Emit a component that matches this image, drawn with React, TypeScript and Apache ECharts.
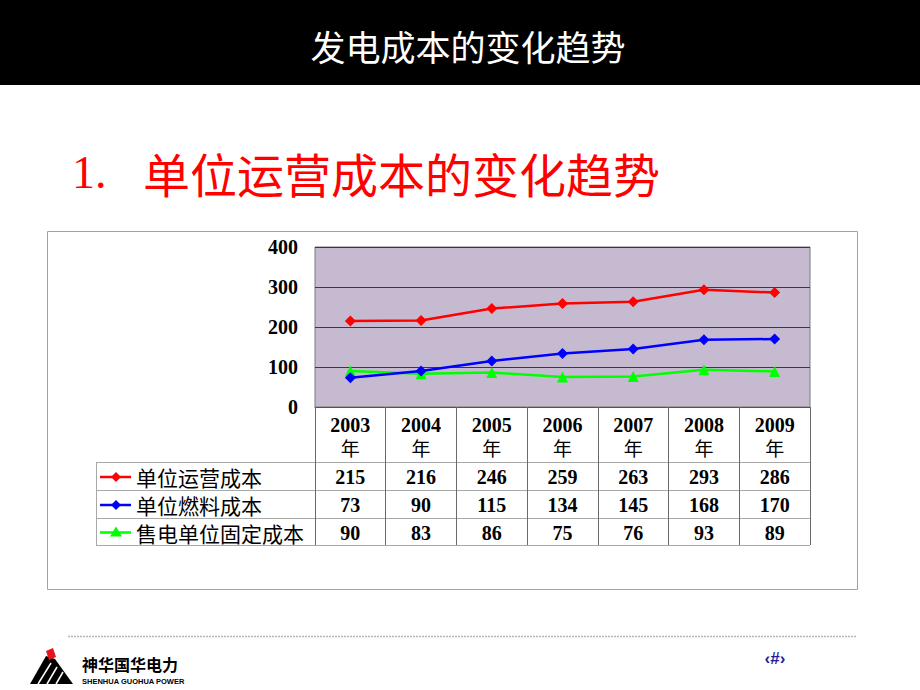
import React, { useEffect, useRef } from 'react';
import * as echarts from 'echarts';

// ---- data ----
const CATEGORIES = ['2003', '2004', '2005', '2006', '2007', '2008', '2009'];
const YEAR_SUFFIX = '年';
const SERIES_NAMES = ['单位运营成本', '单位燃料成本', '售电单位固定成本'];
const OPERATING_COST = [215, 216, 246, 259, 263, 293, 286];
const FUEL_COST = [73, 90, 115, 134, 145, 168, 170];
const FIXED_COST = [90, 83, 86, 75, 76, 93, 89];
const Y_MIN = 0;
const Y_MAX = 400;
const Y_INTERVAL = 100;
const PAGE_TITLE = '发电成本的变化趋势';
const SECTION_NO = '1.';
const SECTION_TITLE = '单位运营成本的变化趋势';

// ---- layout / style ----
const W = 920;
const H = 690;
const GRID = { left: 315, top: 247, width: 495, height: 160 };
const ROW_LINES = [462, 490, 518, 545];
const TABLE_LEFT = 96;
const COLORS = ['#ff0000', '#0000ff', '#00ff00'];
const SYMBOLS = ['diamond', 'diamond', 'triangle'];
const SERIF = '"Liberation Serif", "Times New Roman", serif';
const CJK = '"Noto Sans CJK SC", sans-serif';

export default function App() {
  const ref = useRef<HTMLDivElement>(null);

  useEffect(() => {
    document.body.style.margin = '0';
    const chart = echarts.init(ref.current!, null, { renderer: 'svg', width: W, height: H });
    const values = [OPERATING_COST, FUEL_COST, FIXED_COST];

    chart.setOption({
      animation: false,
      backgroundColor: '#ffffff',
      grid: {
        left: GRID.left,
        top: GRID.top,
        width: GRID.width,
        height: GRID.height,
        show: true,
        backgroundColor: '#c6bad0',
        borderColor: '#7a7a7a',
        borderWidth: 1,
      },
      xAxis: {
        type: 'category',
        data: CATEGORIES,
        boundaryGap: true,
        axisLine: { show: true, lineStyle: { color: '#555555', width: 1 } },
        axisTick: {
          show: true,
          interval: 0,
          length: ROW_LINES[ROW_LINES.length - 1] - (GRID.top + GRID.height),
          lineStyle: { color: '#6a6a6a', width: 1 },
        },
        axisLabel: {
          interval: 0,
          margin: 6,
          formatter: (v: string) => `{y|${v}}\n{n|${YEAR_SUFFIX}}`,
          rich: {
            y: { fontFamily: SERIF, fontWeight: 'bold', fontSize: 20, color: '#000', lineHeight: 23 },
            n: { fontFamily: CJK, fontSize: 19, color: '#000', lineHeight: 23 },
          },
        },
        splitLine: { show: false },
      },
      yAxis: {
        type: 'value',
        min: Y_MIN,
        max: Y_MAX,
        interval: Y_INTERVAL,
        axisLine: { show: false },
        axisTick: { show: false },
        axisLabel: {
          margin: 17,
          fontFamily: SERIF,
          fontWeight: 'bold',
          fontSize: 20,
          color: '#000',
        },
        splitLine: { show: true, lineStyle: { color: '#3a3a3a', width: 1 } },
      },
      series: SERIES_NAMES.map((name, i) => ({
        name,
        type: 'line',
        data: values[i],
        symbol: SYMBOLS[i],
        symbolSize: 11,
        lineStyle: { color: COLORS[i], width: 2.5 },
        itemStyle: { color: COLORS[i] },
        z: 3 + (2 - i),
      })),
    });

    const xs = CATEGORIES.map((c) => chart.convertToPixel({ xAxisIndex: 0 }, c) as number);
    const tableRight = GRID.left + GRID.width;
    const graphics: any[] = [];

    // header bar
    graphics.push({ type: 'rect', shape: { x: 0, y: 0, width: W, height: 85 }, style: { fill: '#000' }, silent: true });
    graphics.push({
      type: 'text', x: 468, y: 45,
      style: { text: PAGE_TITLE, fill: '#fff', font: `35px ${CJK}`, textAlign: 'center', textVerticalAlign: 'middle' },
    });
    // section title
    graphics.push({
      type: 'text', x: 72, y: 172,
      style: { text: SECTION_NO, fill: '#ff0000', font: `46px ${SERIF}`, textAlign: 'left', textVerticalAlign: 'middle' },
    });
    graphics.push({
      type: 'text', x: 143, y: 172,
      style: { text: SECTION_TITLE, fill: '#ff0000', font: `47px ${CJK}`, textAlign: 'left', textVerticalAlign: 'middle' },
    });
    // chart frame
    graphics.push({
      type: 'rect', shape: { x: 47.5, y: 231.5, width: 810, height: 358 },
      style: { fill: 'none', stroke: '#a3a0a6', lineWidth: 1 }, z: -1,
    });

    // table row lines
    ROW_LINES.forEach((y) => {
      graphics.push({
        type: 'line', shape: { x1: TABLE_LEFT, y1: y + 0.5, x2: tableRight, y2: y + 0.5 },
        style: { stroke: '#a8a8a8', lineWidth: 1 },
      });
    });
    graphics.push({
      type: 'line', shape: { x1: TABLE_LEFT + 0.5, y1: ROW_LINES[0], x2: TABLE_LEFT + 0.5, y2: ROW_LINES[ROW_LINES.length - 1] },
      style: { stroke: '#a8a8a8', lineWidth: 1 },
    });

    // table rows: legend + values
    SERIES_NAMES.forEach((name, i) => {
      const cy = (ROW_LINES[i] + ROW_LINES[i + 1]) / 2 + 1;
      graphics.push({
        type: 'line', shape: { x1: 100, y1: cy, x2: 131, y2: cy },
        style: { stroke: COLORS[i], lineWidth: 2.5 },
      });
      const mx = 116;
      const pts = SYMBOLS[i] === 'diamond'
        ? [[mx, cy - 5], [mx + 5, cy], [mx, cy + 5], [mx - 5, cy]]
        : [[mx, cy - 6], [mx + 6, cy + 4], [mx - 6, cy + 4]];
      graphics.push({ type: 'polygon', shape: { points: pts }, style: { fill: COLORS[i] } });
      graphics.push({
        type: 'text', x: 136, y: cy,
        style: { text: name, fill: '#000', font: `21px ${CJK}`, textAlign: 'left', textVerticalAlign: 'middle' },
      });
      values[i].forEach((v, j) => {
        graphics.push({
          type: 'text', x: xs[j], y: cy,
          style: { text: String(v), fill: '#000', font: `bold 20px ${SERIF}`, textAlign: 'center', textVerticalAlign: 'middle' },
        });
      });
    });

    // footer line
    graphics.push({
      type: 'line', shape: { x1: 68, y1: 636.5, x2: 857, y2: 636.5 },
      style: { stroke: '#b8b4bc', lineWidth: 1.5, lineDash: [2, 1] },
    });
    // logo
    graphics.push({
      type: 'polygon', shape: { points: [[30, 684], [46, 656], [55, 659], [73, 684]] },
      style: { fill: '#000' },
    });
    [[38, 684, 51, 663], [47, 684, 57, 667], [56, 684, 63, 672]].forEach(([x1, y1, x2, y2]) => {
      graphics.push({ type: 'line', shape: { x1, y1, x2, y2 }, style: { stroke: '#fff', lineWidth: 1.5 } });
    });
    graphics.push({
      type: 'polygon', shape: { points: [[46, 651], [53, 648], [56, 657], [49, 660]] },
      style: { fill: '#e8141c' },
    });
    graphics.push({
      type: 'text', x: 82, y: 664,
      style: { text: '神华国华电力', fill: '#000', font: `bold 16px ${CJK}`, textAlign: 'left', textVerticalAlign: 'middle' },
    });
    graphics.push({
      type: 'text', x: 82, y: 681,
      style: { text: 'SHENHUA GUOHUA POWER', fill: '#000', font: `bold 7.5px "Liberation Sans", Arial, sans-serif`, textAlign: 'left', textVerticalAlign: 'middle' },
    });
    graphics.push({
      type: 'text', x: 775, y: 658,
      style: { text: '‹#›', fill: '#1f1f9a', font: `bold 17px "Liberation Sans", Arial, sans-serif`, textAlign: 'center', textVerticalAlign: 'middle' },
    });

    chart.setOption({ graphic: graphics });

    return () => chart.dispose();
  }, []);

  return <div ref={ref} style={{ width: W, height: H }} />;
}
